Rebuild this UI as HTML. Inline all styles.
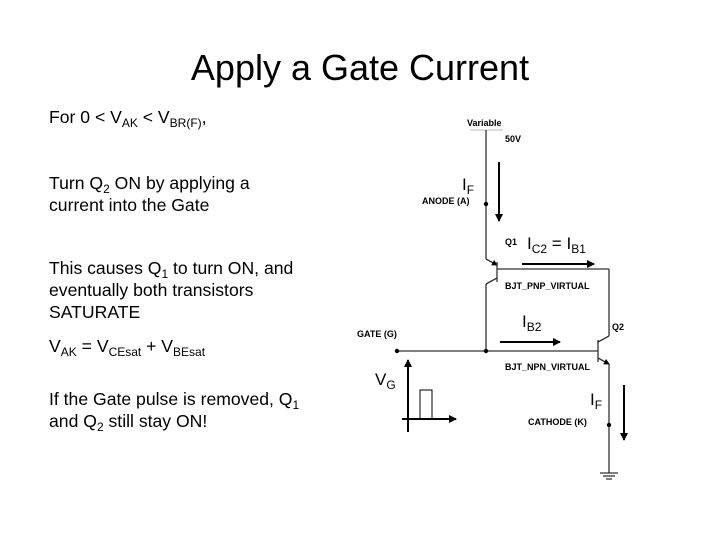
<!DOCTYPE html>
<html><head><style>
body{margin:0;background:#fff;}
svg{display:block;}
text{font-family:"Liberation Sans",Arial,sans-serif;fill:#000;}
.t{font-size:17.6px;}
.s{font-size:12px;}
.b{font-size:9px;font-weight:bold;}
.l{font-size:17px;}
.ls{font-size:12px;}
</style></head><body>
<svg width="720" height="540" viewBox="0 0 720 540" xmlns="http://www.w3.org/2000/svg">
<defs><marker id="a" markerWidth="8" markerHeight="8" refX="7" refY="4" orient="auto" markerUnits="userSpaceOnUse"><path d="M0,0 L8,4 L0,8 z" fill="#000"/></marker>
<marker id="e" markerWidth="6" markerHeight="6" refX="5" refY="3" orient="auto" markerUnits="userSpaceOnUse"><path d="M0,0 L6,3 L0,6 z" fill="#000"/></marker></defs>
<text x="360" y="80" text-anchor="middle" font-size="36">Apply a Gate Current</text>
<text class="t" x="49" y="123">For 0 &lt; V<tspan class="s" dy="4">AK</tspan><tspan dy="-4"> &lt; V</tspan><tspan class="s" dy="4">BR(F)</tspan><tspan dy="-4">,</tspan></text>
<text class="t" x="49" y="189">Turn Q<tspan class="s" dy="4">2</tspan><tspan dy="-4"> ON by applying a</tspan></text>
<text class="t" x="49" y="211">current into the Gate</text>
<text class="t" x="49" y="274">This causes Q<tspan class="s" dy="4">1</tspan><tspan dy="-4"> to turn ON, and</tspan></text>
<text class="t" x="49" y="296">eventually both transistors</text>
<text class="t" x="49" y="318">SATURATE</text>
<text class="t" x="49" y="352">V<tspan class="s" dy="4">AK</tspan><tspan dy="-4"> = V</tspan><tspan class="s" dy="4">CEsat</tspan><tspan dy="-4"> + V</tspan><tspan class="s" dy="4">BEsat</tspan></text>
<text class="t" x="49" y="405">If the Gate pulse is removed, Q<tspan class="s" dy="4">1</tspan></text>
<text class="t" x="49" y="427">and Q<tspan class="s" dy="4">2</tspan><tspan dy="-4"> still stay ON!</tspan></text>

<g stroke="#333" stroke-width="1.3" fill="none">
<line x1="470" y1="130" x2="503" y2="130" stroke="#ccc"/>
<line x1="486" y1="130" x2="486" y2="259"/>
<line x1="486" y1="259" x2="497" y2="265" marker-end="url(#e)"/>
<line x1="497" y1="262" x2="497" y2="282"/>
<line x1="497" y1="278" x2="486" y2="284"/>
<line x1="486" y1="284" x2="486" y2="351"/>
<line x1="497" y1="269" x2="609" y2="269"/>
<line x1="609" y1="269" x2="609" y2="336"/>
<line x1="609" y1="336" x2="598" y2="342"/>
<line x1="598" y1="340" x2="598" y2="362"/>
<line x1="598" y1="358" x2="609" y2="364" marker-end="url(#e)"/>
<line x1="609" y1="364" x2="609" y2="473"/>
<line x1="397" y1="351" x2="598" y2="351"/>
<line x1="600" y1="473" x2="618" y2="473"/>
<line x1="603" y1="476" x2="615" y2="476"/>
<line x1="606" y1="479" x2="612" y2="479"/>
</g>
<g fill="#000"><circle cx="486" cy="204" r="2.2"/><circle cx="397" cy="351" r="2.2"/><circle cx="486" cy="351" r="2.2"/><circle cx="609" cy="425" r="2.2"/></g>
<g stroke="#000" stroke-width="2" fill="none">
<line x1="499" y1="162" x2="499" y2="221" marker-end="url(#a)"/>
<line x1="522" y1="264" x2="594" y2="264" marker-end="url(#a)"/>
<line x1="500" y1="342" x2="560" y2="342" marker-end="url(#a)"/>
<line x1="624" y1="385" x2="624" y2="440" marker-end="url(#a)"/>
<line x1="408" y1="432" x2="408" y2="360" marker-end="url(#a)"/>
<line x1="402" y1="419" x2="456" y2="419" marker-end="url(#a)"/>
</g>
<rect x="420" y="390" width="12" height="29" fill="none" stroke="#000" stroke-width="1"/>
<text class="b" x="467" y="126">Variable</text>
<text class="b" x="505" y="142">50V</text>
<text class="b" x="422" y="204">ANODE (A)</text>
<text class="b" x="505" y="245">Q1</text>
<text class="b" x="505" y="289">BJT_PNP_VIRTUAL</text>
<text class="b" x="357" y="337">GATE (G)</text>
<text class="b" x="612" y="330">Q2</text>
<text class="b" x="505" y="370">BJT_NPN_VIRTUAL</text>
<text class="b" x="528" y="425">CATHODE (K)</text>
<text class="l" x="462" y="190">I<tspan class="ls" dy="4">F</tspan></text>
<text class="l" x="527" y="249">I<tspan class="ls" dy="4">C2</tspan><tspan dy="-4"> = I</tspan><tspan class="ls" dy="4">B1</tspan></text>
<text class="l" x="522" y="327">I<tspan class="ls" dy="4">B2</tspan></text>
<text class="l" x="375" y="385">V<tspan class="ls" dy="4">G</tspan></text>
<text class="l" x="590" y="405">I<tspan class="ls" dy="4">F</tspan></text>
</svg>
</body></html>
